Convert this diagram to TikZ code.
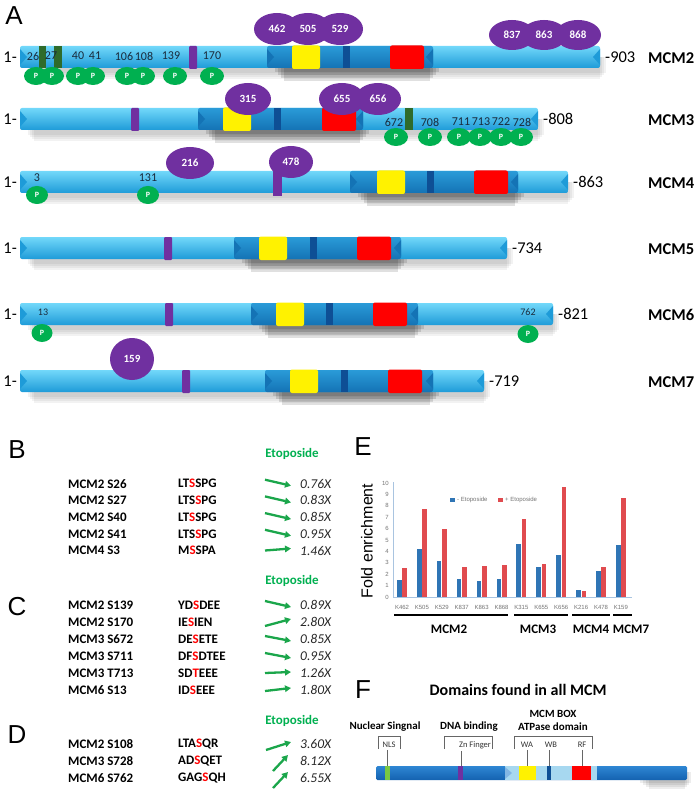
\documentclass[tikz,border=0pt]{standalone}
\usepackage{fontspec}
\setmainfont{Carlito}
\newfontfamily\arialfont{Liberation Sans}
\usetikzlibrary{arrows.meta, positioning, shapes.geometric}
\definecolor{barhi}{HTML}{72D8FA}
\definecolor{barmid}{HTML}{33BAF0}
\definecolor{barlo}{HTML}{1E9BD8}
\definecolor{darkhi}{HTML}{2A9BD8}
\definecolor{darklo}{HTML}{1473B5}
\definecolor{motifblue}{HTML}{0E4F95}
\definecolor{kpurple}{HTML}{7030A0}
\definecolor{pgreen}{HTML}{00B050}
\definecolor{dgreen}{HTML}{2F6B2A}
\definecolor{etogreen}{HTML}{00B050}
\definecolor{arrowgreen}{HTML}{1BA64B}
\definecolor{sitetext}{HTML}{1A2B3C}
\definecolor{chblue}{HTML}{2F75B5}
\definecolor{chred}{HTML}{E04B4F}
\definecolor{chaxis}{HTML}{A9C4E0}
\definecolor{fbarhi}{HTML}{2E86D3}
\definecolor{fbarlo}{HTML}{1462B0}
\definecolor{atplight}{HTML}{A7D8F0}
\definecolor{nlsgreen}{HTML}{79C843}
\newcommand{\hlres}[1]{\textcolor{red}{#1}}

\tikzset{
  panel/.style={font=\arialfont\fontsize{26}{26}\selectfont, inner sep=0pt},
  kmark/.style={ellipse, fill=kpurple, minimum width=46pt, minimum height=32pt, inner sep=0pt,
                text=white, font=\bfseries\fontsize{11}{11}\selectfont},
  pmark/.style={ellipse, fill=pgreen, minimum width=24pt, minimum height=18pt, inner sep=0pt,
                text=white, font=\bfseries\fontsize{8}{8}\selectfont},
  sitenum/.style={font=\fontsize{12}{12}\selectfont, text=sitetext, inner sep=0pt},
  endlab/.style={font=\fontsize{16.5}{16.5}\selectfont, inner sep=0pt},
  mcmlab/.style={font=\bfseries\fontsize{16.5}{16.5}\selectfont, inner sep=0pt, anchor=west},
  sitename/.style={font=\bfseries\fontsize{13}{13}\selectfont, anchor=west, inner sep=0pt},
  fold/.style={font=\itshape\fontsize{13.5}{13.5}\selectfont, anchor=west, inner sep=0pt, text=black!85},
  etolab/.style={font=\bfseries\fontsize{13}{13}\selectfont, text=etogreen, inner sep=0pt},
  trend/.style={-{Triangle[length=6pt,width=6.5pt]}, line width=2.3pt, draw=arrowgreen},
  ticklab/.style={font=\arialfont\fontsize{6}{6}\selectfont, text=black!55, inner sep=0pt},
  grouplab/.style={font=\bfseries\fontsize{13}{13}\selectfont, inner sep=0pt},
  domlab/.style={font=\bfseries\fontsize{11}{11}\selectfont, inner sep=0pt},
  boxlab/.style={font=\fontsize{8.5}{8.5}\selectfont, text=black!80, inner sep=0pt},
  bracket/.style={draw=black!60, line width=0.6pt}
}

\begin{document}
\begin{tikzpicture}[x=1pt, y=-1pt]
\useasboundingbox (0,0) rectangle (700,794);

% ---------- A: protein bars ----------
\node[panel] (pA) at (14,16) {A};

\foreach \n/\yc/\xe/\da/\db/\pu/\ye/\st/\re/\len in {
  2/57/600/267/433/189/292/343/390/903,
  3/119/538/198/363/131/223/274/322/808,
  4/182/568/350/518/273/377/427/474/863,
  5/248/507/234/401/164/259/310/357/734,
  6/314/553/251/418/165/276/326/373/821,
  7/381/484/265/433/182/290/341/388/719}
{
  % soft shadow
  \foreach \k in {0,...,3}
    \fill[black, opacity=0.05] (28+\k*2,\yc) rectangle (\xe+6-\k*2,\yc+16+\k*2);
  \foreach \k in {0,...,3}
    \fill[black, opacity=0.12] (\da+8+\k*3,\yc) rectangle (\db+6-\k*3,\yc+15+\k*3);
  % body
  \shade[top color=barhi, middle color=barmid, bottom color=barlo, rounded corners=2pt]
    (20,\yc-11) rectangle (\xe,\yc+11);
  \fill[barlo] (20,\yc-8) -- (27,\yc) -- (20,\yc+8) -- cycle;
  \fill[barlo] (\xe,\yc-8) -- (\xe-7,\yc) -- (\xe,\yc+8) -- cycle;
  % ATPase region
  \shade[top color=darkhi, bottom color=darklo, rounded corners=2pt]
    (\da,\yc-11) rectangle (\db,\yc+11);
  \fill[darklo] (\da,\yc-8) -- (\da+7,\yc) -- (\da,\yc+8) -- cycle;
  \fill[darklo] (\db,\yc-8) -- (\db-7,\yc) -- (\db,\yc+8) -- cycle;
  % motifs
  \fill[kpurple, rounded corners=1pt] (\pu,\yc-11) rectangle (\pu+8,\yc+12);
  \fill[yellow, rounded corners=2pt] (\ye,\yc-11.5) rectangle (\ye+28,\yc+12);
  \fill[motifblue] (\st,\yc-11) rectangle (\st+7,\yc+11);
  \fill[red, rounded corners=2pt] (\re,\yc-11.5) rectangle (\re+34,\yc+12);
  % labels
  \node[endlab, anchor=east] (one\n) at (17,\yc) {1-};
  \node[endlab, anchor=west] (len\n) at (\xe+5,\yc) {-\len};
  \node[mcmlab] (lab\n) at (648,\yc+1) {MCM\n};
}

% MCM2 sites
\fill[dgreen] (39,46) rectangle (46,68);
\fill[dgreen] (54,46) rectangle (62,68);
\foreach \s/\x in {26/33, 27/51, 40/78, 41/95, 106/124, 108/144, 139/171, 170/212}
  \node[sitenum] (m2s\s) at (\x,56) {\s};
\foreach \s/\x in {26/36, 27/52, 40/78, 41/93, 106/127, 108/143, 139/175, 170/212}
  \node[pmark] (m2p\s) at (\x,76) {P};
\foreach \s/\x in {462/277, 505/308, 529/340}
  \node[kmark] (m2k\s) at (\x,29) {\s};
\foreach \s/\x in {837/512, 863/544, 868/578}
  \node[kmark, minimum height=30pt] (m2k\s) at (\x,35) {\s};

% MCM3 sites
\fill[dgreen] (405,108) rectangle (413,130);
\node[kmark] (m3k315) at (248,99) {315};
\node[kmark] (m3k655) at (342,99) {655};
\node[kmark] (m3k656) at (378,99) {656};
\foreach \s/\x in {672/394, 708/430, 711/461, 713/481, 722/501, 728/522}
  \node[sitenum] (m3s\s) at (\x,122) {\s};
\foreach \s/\x in {672/396, 708/430, 711/459, 713/480, 722/501, 728/521}
  \node[pmark] (m3p\s) at (\x,137) {P};

% MCM4 sites
\fill[kpurple] (273,168) rectangle (282,196);
\node[kmark, minimum width=48pt] (m4k216) at (190,163) {216};
\node[kmark, minimum width=44pt] (m4k478) at (291,162) {478};
\node[sitenum] (m4s3) at (37,178) {3};
\node[sitenum] (m4s131) at (148,178) {131};
\node[pmark, minimum width=22pt] (m4p3) at (37,195) {P};
\node[pmark, minimum width=22pt] (m4p131) at (148,195) {P};

% MCM6 sites
\node[sitenum, font=\fontsize{10}{10}\selectfont] (m6s13) at (43,312) {13};
\node[sitenum, font=\fontsize{10}{10}\selectfont] (m6s762) at (528,312) {762};
\node[pmark, minimum width=21pt] (m6p13) at (42,333) {P};
\node[pmark, minimum width=21pt] (m6p762) at (528,334) {P};

% MCM7 sites
\node[kmark, minimum width=44pt, minimum height=42pt] (m7k159) at (132,359) {159};

% ---------- B, C, D: phosphosites ----------
\node[panel] (pB) at (17,450) {B};
\node[etolab] (etoB) at (292,454) {Etoposide};
\foreach \nm/\sq/\fv/\ya/\yb [count=\i] in {
  MCM2 S26/LT\hlres{S}SPG/0.76X/-4/2,
  MCM2 S27/LTS\hlres{S}PG/0.83X/-4/2,
  MCM2 S40/LT\hlres{S}SPG/0.85X/-4/2,
  MCM2 S41/LTS\hlres{S}PG/0.95X/-4/2,
  MCM4 S3/M\hlres{S}SPA/1.46X/0/-2}
{
  \node[sitename] (bn\i) at (68,467+16.7*\i) {\nm};
  \node[sitename] (bq\i) at (178,467+16.7*\i) {\sq};
  \node[fold] (bv\i) at (300,467+16.7*\i) {\fv};
  \coordinate (bs\i) at (265,467+16.7*\i+\ya);
  \coordinate (be\i) at (291,467+16.7*\i+\yb);
  \draw[trend] (bs\i) -- (be\i);
}

\node[panel] (pC) at (17,607) {C};
\node[etolab] (etoC) at (292,581) {Etoposide};
\foreach \nm/\sq/\fv/\ya/\yb [count=\i] in {
  MCM2 S139/YD\hlres{S}DEE/0.89X/-4/2,
  MCM2 S170/IE\hlres{S}IEN/2.80X/4/-3,
  MCM3 S672/DE\hlres{S}ETE/0.85X/-3/2,
  MCM3 S711/DF\hlres{S}DTEE/0.95X/-3/2,
  MCM3 T713/SD\hlres{T}EEE/1.26X/0/-1,
  MCM6 S13/ID\hlres{S}EEE/1.80X/1/-2}
{
  \node[sitename] (cn\i) at (68,588+17*\i) {\nm};
  \node[sitename] (cq\i) at (178,588+17*\i) {\sq};
  \node[fold] (cv\i) at (300,588+17*\i) {\fv};
  \coordinate (cs\i) at (265,588+17*\i+\ya);
  \coordinate (ce\i) at (291,588+17*\i+\yb);
  \draw[trend] (cs\i) -- (ce\i);
}

\node[panel] (pD) at (17,735) {D};
\node[etolab] (etoD) at (292,721) {Etoposide};
\foreach \nm/\sq/\fv/\xa/\ya/\xb/\yb [count=\i] in {
  MCM2 S108/LTA\hlres{S}QR/3.60X/266/6/291/-2,
  MCM3 S728/AD\hlres{S}QET/8.12X/273/10/288/-6,
  MCM6 S762/GAG\hlres{S}QH/6.55X/273/10/288/-6}
{
  \node[sitename] (dn\i) at (68,727+17*\i) {\nm};
  \node[sitename] (dq\i) at (178,727+17*\i) {\sq};
  \node[fold] (dv\i) at (300,727+17*\i) {\fv};
  \coordinate (ds\i) at (\xa,727+17*\i+\ya);
  \coordinate (de\i) at (\xb,727+17*\i+\yb);
  \draw[trend] (ds\i) -- (de\i);
}

% ---------- E: chart ----------
\node[panel] (pE) at (363,447) {E};
\node[font=\arialfont\fontsize{16}{16}\selectfont, rotate=90, inner sep=0pt] (ylab) at (367,541) {Fold enrichment};
\coordinate (ax0) at (393,597);
\coordinate (axT) at (393,482);
\coordinate (axR) at (632,597);
\draw[chaxis, line width=0.8pt] (axT) -- (ax0) -- (axR);
\foreach \v in {0,...,10}
  \node[ticklab, anchor=east] (yt\v) at (389,597-11.4*\v) {\v};
\foreach \lab/\bv/\rv [count=\i from 0] in {
  K462/1.5/2.55, K505/4.2/7.75, K529/3.2/6.0, K837/1.6/2.6,
  K863/1.42/2.73, K868/1.6/2.85, K315/4.65/6.86, K655/2.65/2.9,
  K656/3.7/9.65, K216/0.64/0.55, K478/2.27/2.65, K159/4.53/8.72}
{
  \fill[chblue] (397+19.9*\i,597) rectangle (401.6+19.9*\i,597-11.4*\bv);
  \fill[chred] (402.4+19.9*\i,597) rectangle (407+19.9*\i,597-11.4*\rv);
  \node[ticklab] (cat\i) at (402+19.9*\i,607) {\lab};
}
\fill[chblue] (450,497.5) rectangle (454.5,502);
\node[ticklab, anchor=west] (legm) at (457,500) {- Etoposide};
\fill[chred] (498,497.5) rectangle (502.5,502);
\node[ticklab, anchor=west] (legp) at (505,500) {+ Etoposide};

\draw[line width=2.6pt] (394,615) -- (508,615);
\draw[line width=2.6pt] (514,615) -- (568,615);
\draw[line width=2.6pt] (572,615) -- (610,615);
\draw[line width=2.6pt] (613,615) -- (632,615);
\node[grouplab] (g2) at (449,629) {MCM2};
\node[grouplab] (g3) at (538,629) {MCM3};
\node[grouplab] (g4) at (591,629) {MCM4};
\node[grouplab] (g7) at (631,629) {MCM7};

% ---------- F: common domains ----------
\node[panel] (pF) at (363,690) {F};
\node[font=\bfseries\fontsize{16}{16}\selectfont, inner sep=0pt] (ftitle) at (518,690) {Domains found in all MCM};
\foreach \k in {0,...,3}
  \fill[black, opacity=0.07] (640+\k*3,772) rectangle (691-\k*2,783+\k*2);
\shade[top color=fbarhi, bottom color=fbarlo, rounded corners=1.5pt] (376,766) rectangle (687,780);
\fill[atplight] (505,766) rectangle (597,780);
\fill[fbarhi!60!white] (505,767) -- (512,773) -- (505,779) -- cycle;
\fill[nlsgreen] (385,766) rectangle (390,780);
\fill[kpurple] (458,766) rectangle (463,780);
\fill[yellow] (519,766) rectangle (536,780);
\fill[motifblue] (547,766) rectangle (551,780);
\fill[red] (572,766) rectangle (591,780);

\node[domlab] (dnls) at (385,727) {Nuclear Singnal};
\node[domlab] (ddna) at (469,727) {DNA binding};
\node[domlab] (dbox) at (553,714) {MCM BOX};
\node[domlab] (datp) at (553,727) {ATPase domain};

\draw[bracket] (378,749) -- (378,736) -- (400,736) -- (400,749);
\draw[bracket] (444,749) -- (444,736) -- (492,736) -- (492,749);
\draw[bracket] (514,749) -- (514,736) -- (592,736) -- (592,749);

\node[boxlab] (nls) at (389,745) {NLS};
\node[boxlab] (znf) at (475,745) {Zn Finger};
\node[boxlab] (wa) at (527,745) {WA};
\node[boxlab] (wb) at (551,745) {WB};
\node[boxlab] (rf) at (582,745) {RF};

\coordinate (nlsbar) at (387,766);
\coordinate (znbar) at (461,766);
\coordinate (wabar) at (527,766);
\coordinate (wbbar) at (549,766);
\coordinate (rfbar) at (582,766);
\draw[bracket] ([yshift=-2pt]nls.south -| nlsbar) -- (nlsbar);
\draw[bracket] ([yshift=-2pt]znf.south -| znbar) -- (znbar);
\draw[bracket] ([yshift=-2pt]wa.south -| wabar) -- (wabar);
\draw[bracket] ([yshift=-2pt]wb.south -| wbbar) -- (wbbar);
\draw[bracket] ([yshift=-2pt]rf.south -| rfbar) -- (rfbar);
\end{tikzpicture}
\end{document}
